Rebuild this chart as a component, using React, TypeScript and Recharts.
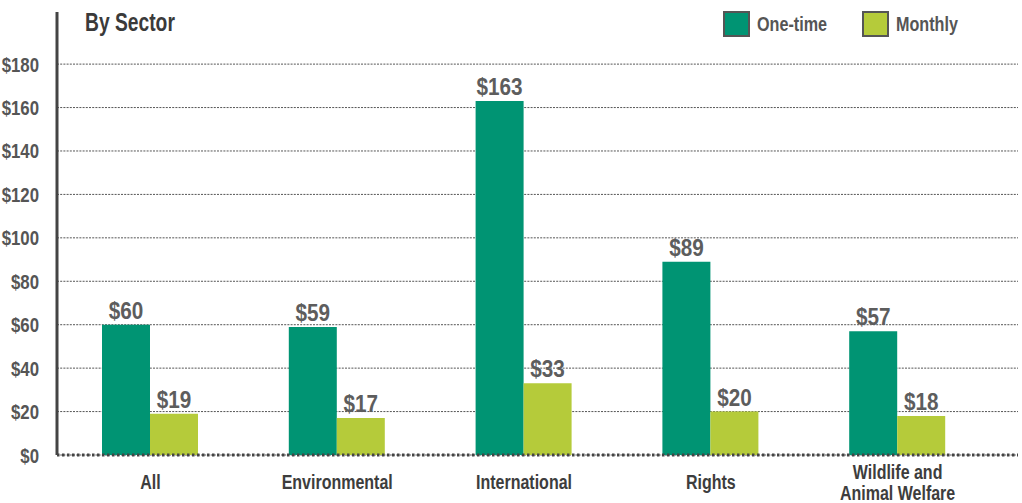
import React from "react";
import { BarChart, Bar, XAxis, YAxis, CartesianGrid, LabelList, Legend } from "recharts";

const categories = ["All", "Environmental", "International", "Rights", "Wildlife and Animal Welfare"];
const oneTime = [60, 59, 163, 89, 57];
const monthly = [19, 17, 33, 20, 18];
const yTicks = [0, 20, 40, 60, 80, 100, 120, 140, 160, 180];
const seriesKeys = ["oneTime", "monthly"];
const seriesNames = ["One-time", "Monthly"];
const title = "By Sector";

const data = categories.map((c, i) => ({ name: c, oneTime: oneTime[i], monthly: monthly[i] }));

const FONT = "'Liberation Sans', Arial, sans-serif";
const GREEN = "#009473";
const LIME = "#b5cb3a";

function wrap(label: string): string[] {
  if (label.length <= 15) return [label];
  const words = label.split(" ");
  const lines: string[] = [];
  let cur = "";
  for (const w of words) {
    const next = cur ? cur + " " + w : w;
    if (next.length > 14 && cur) {
      lines.push(cur);
      cur = w;
    } else cur = next;
  }
  if (cur) lines.push(cur);
  return lines;
}

const CText = (props: any) => {
  const { x, y, anchor = "middle", size, fill, sx = 0.8, children } = props;
  return (
    <text
      transform={`translate(${x},${y}) scale(${sx},1)`}
      x={0}
      y={0}
      textAnchor={anchor}
      fontSize={size}
      fontWeight="bold"
      fontFamily={FONT}
      fill={fill}
    >
      {children}
    </text>
  );
};

const XTick = (props: any) => {
  const { x, y, payload } = props;
  const lines = wrap(String(payload.value));
  const first = lines.length > 1 ? 24 : 34;
  return (
    <g>
      {lines.map((l, i) => (
        <CText key={i} x={x} y={y + first + i * 21} size={20} sx={0.8} fill="#3d3d3d">
          {l}
        </CText>
      ))}
    </g>
  );
};

const YTick = (props: any) => {
  const { x, y, payload } = props;
  return (
    <CText x={x} y={y + 7.5} anchor="end" size={21} sx={0.8} fill="#555">
      {`$${payload.value}`}
    </CText>
  );
};

const ValueLabel = (props: any) => {
  const { x, y, width, value } = props;
  return (
    <CText x={Number(x) + Number(width) / 2} y={Number(y) - 6} size={23} sx={0.9} fill="#5d5d5d">
      {`$${value}`}
    </CText>
  );
};

const LegendContent = (props: any) => {
  const payload = [...(props.payload || [])].sort(
    (a: any, b: any) => seriesKeys.indexOf(a.dataKey) - seriesKeys.indexOf(b.dataKey)
  );
  return (
    <div style={{ display: "flex", alignItems: "center" }}>
      {payload.map((p: any, i: number) => (
        <div key={i} style={{ display: "flex", alignItems: "center", width: i === 0 ? 139 : 110 }}>
          <div
            style={{
              width: 27,
              height: 26,
              boxSizing: "border-box",
              border: "2.5px solid #555",
              background: p.color,
              flex: "none",
            }}
          />
          <span
            style={{
              marginLeft: 7,
              display: "inline-block",
              transform: "scaleX(0.77)",
              transformOrigin: "left center",
              fontFamily: FONT,
              fontWeight: "bold",
              fontSize: 21,
              color: "#555",
              lineHeight: "26px",
              whiteSpace: "nowrap",
            }}
          >
            {p.value}
          </span>
        </div>
      ))}
    </div>
  );
};

export default function App() {
  return (
    <div style={{ position: "absolute", left: 0, top: 0, width: 1022, height: 503, background: "#fff" }}>
      <div
        style={{
          position: "absolute",
          left: 85,
          top: 7,
          fontFamily: FONT,
          fontWeight: "bold",
          fontSize: 25,
          color: "#3a3a3a",
          lineHeight: "30px",
          zIndex: 2,
          transform: "scaleX(0.77)",
          transformOrigin: "left center",
          whiteSpace: "nowrap",
        }}
      >
        {title}
      </div>
      <BarChart
        width={1022}
        height={503}
        data={data}
        margin={{ top: 12, right: 4, bottom: 0, left: 0 }}
        barGap={0}
        barSize={48}
      >
        <CartesianGrid vertical={false} syncWithTicks stroke="#555" strokeDasharray="2 1.2" strokeWidth={1} />
        <XAxis
          dataKey="name"
          height={48}
          tickLine={false}
          tickSize={0}
          tickMargin={0}
          interval={0}
          padding={{ left: 0, right: 27 }}
          axisLine={{ stroke: "#444", strokeWidth: 3, strokeDasharray: "2.5 2.5" }}
          tick={<XTick />}
        />
        <YAxis
          width={57}
          domain={[0, 204]}
          ticks={yTicks}
          interval={0}
          tickLine={false}
          tickMargin={12}
          axisLine={{ stroke: "#444", strokeWidth: 3 }}
          tick={<YTick />}
        />
        <Legend
          layout="horizontal"
          verticalAlign="middle"
          align="center"
          content={<LegendContent />}
          wrapperStyle={{ position: "absolute", top: 11, left: 723, width: 299, height: 27 }}
        />
        <Bar dataKey="oneTime" name={seriesNames[0]} fill={GREEN} isAnimationActive={false}>
          <LabelList dataKey="oneTime" content={<ValueLabel />} />
        </Bar>
        <Bar dataKey="monthly" name={seriesNames[1]} fill={LIME} isAnimationActive={false}>
          <LabelList dataKey="monthly" content={<ValueLabel />} />
        </Bar>
      </BarChart>
    </div>
  );
}
